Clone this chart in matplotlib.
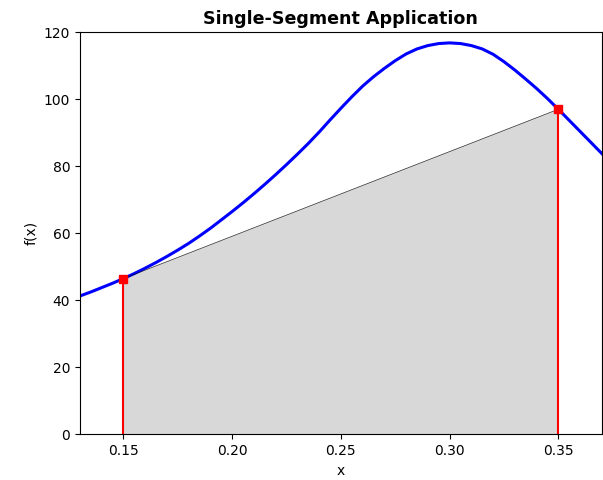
import numpy as np
import matplotlib
matplotlib.use('Agg')
import matplotlib.pyplot as plt

# curve values (step 0.005)
x_vals = [0.130, 0.135, 0.140, 0.145, 0.150, 0.155, 0.160, 0.165, 0.170, 0.175,
          0.180, 0.185, 0.190, 0.195, 0.200, 0.205, 0.210, 0.215, 0.220, 0.225,
          0.230, 0.235, 0.240, 0.245, 0.250, 0.255, 0.260, 0.265, 0.270, 0.275,
          0.280, 0.285, 0.290, 0.295, 0.300, 0.305, 0.310, 0.315, 0.320, 0.325,
          0.330, 0.335, 0.340, 0.345, 0.350, 0.355, 0.360, 0.365, 0.370]
f_vals = [41.3, 42.5, 43.8, 45.1, 46.5, 48.0, 49.6, 51.3, 53.1, 55.0,
          57.0, 59.2, 61.5, 64.0, 66.5, 69.1, 71.8, 74.6, 77.5, 80.5,
          83.6, 86.8, 90.2, 93.8, 97.3, 100.7, 103.9, 106.7, 109.2, 111.5,
          113.5, 115.0, 116.0, 116.6, 116.8, 116.6, 116.0, 115.0, 113.4, 111.2,
          108.7, 106.0, 103.2, 100.2, 97.0, 93.7, 90.4, 87.1, 83.8]

a, b = 0.15, 0.35
fa, fb = 46.5, 97.0

fig = plt.figure(figsize=(6.03, 4.8), dpi=100)
ax = fig.add_subplot(111)
fig.subplots_adjust(left=0.1327, right=0.998, top=0.933, bottom=0.095)

ax.plot(x_vals, f_vals, color='blue', linewidth=2.2)
ax.fill([a, a, b, b], [0, fa, fb, 0], color='gray', alpha=0.3, linewidth=0)
ax.plot([a, b], [fa, fb], color='k', linewidth=0.5, alpha=0.8)
ax.plot([a, a], [0, fa], color='red', linewidth=1.5)
ax.plot([b, b], [0, fb], color='red', linewidth=1.5)
ax.plot([a, b], [fa, fb], 's', color='red', markersize=6)

ax.set_xlim(0.13, 0.37)
ax.set_ylim(0, 120)
ax.set_xlabel('x')
ax.set_ylabel('f(x)')
ax.set_title('Single-Segment Application', fontweight='bold', fontsize=12.6)

fig.savefig('out.png', dpi=100)
